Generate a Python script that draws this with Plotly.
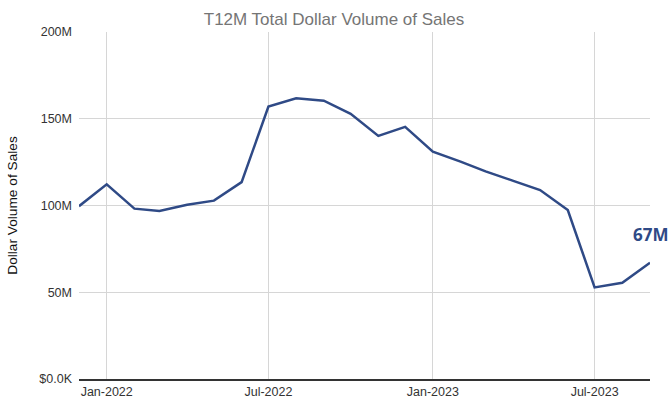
import plotly.graph_objects as go

months = ["2021-12-01", "2022-01-01", "2022-02-01", "2022-03-01", "2022-04-01",
          "2022-05-01", "2022-06-01", "2022-07-01", "2022-08-01", "2022-09-01",
          "2022-10-01", "2022-11-01", "2022-12-01", "2023-01-01", "2023-02-01",
          "2023-03-01", "2023-04-01", "2023-05-01", "2023-06-01", "2023-07-01",
          "2023-08-01", "2023-09-01"]
volume_m = [99.6, 112.2, 98.2, 96.8, 100.4, 102.8, 113.5, 157.0, 161.8, 160.4,
            152.8, 140.1, 145.3, 131.0, 125.3, 119.7, 114.2, 108.9, 97.4, 52.8,
            55.5, 67.0]

ytick_vals_m = [0, 50, 100, 150, 200]
ytick_text = ["$0.0K", "50M", "100M", "150M", "200M"]
xtick_vals = ["2022-01-01", "2022-07-01", "2023-01-01", "2023-07-01"]
last_label = "67M"

line_color = "#2f4a86"
volume = [v * 1e6 for v in volume_m]

fig = go.Figure()
fig.add_trace(go.Scatter(
    x=months, y=volume, mode="lines",
    line=dict(color=line_color, width=2.5),
    hoverinfo="x+y",
))

fig.add_annotation(
    x=months[-1], y=volume[-1], text=f"<b>{last_label}</b>",
    showarrow=False, yshift=28, xanchor="center",
    font=dict(family="Open Sans, sans-serif", size=17, color=line_color),
)

fig.update_layout(
    width=668, height=402,
    margin=dict(l=79, r=18, t=32, b=23),
    paper_bgcolor="white", plot_bgcolor="white",
    showlegend=False,
    title=dict(text="T12M Total Dollar Volume of Sales", x=0.5, xanchor="center",
               y=0.952, yanchor="middle",
               font=dict(family="Liberation Sans, Arial, sans-serif", size=17, color="#757575")),
    font=dict(family="Liberation Sans, Arial, sans-serif", size=12, color="#333333"),
)

fig.update_xaxes(
    range=[months[0], months[-1]],
    tickvals=xtick_vals, tickformat="%b-%Y",
    showgrid=True, gridcolor="#d6d6d6", gridwidth=1,
    showline=True, linecolor="#333333", linewidth=1.5,
    ticks="", tickfont=dict(size=12.5, color="#333333"),
    zeroline=False, automargin=False,
)

fig.update_yaxes(
    range=[0, 200e6],
    tickvals=[v * 1e6 for v in ytick_vals_m], ticktext=ytick_text,
    showgrid=True, gridcolor="#d6d6d6", gridwidth=1,
    zeroline=False, showline=False, ticks="",
    ticklabelstandoff=6, automargin=False,
    tickfont=dict(size=12.5, color="#333333"),
    title=dict(text="Dollar Volume of Sales", standoff=18,
               font=dict(size=13.7, color="#111111")),
)

fig.write_html("out.html")
